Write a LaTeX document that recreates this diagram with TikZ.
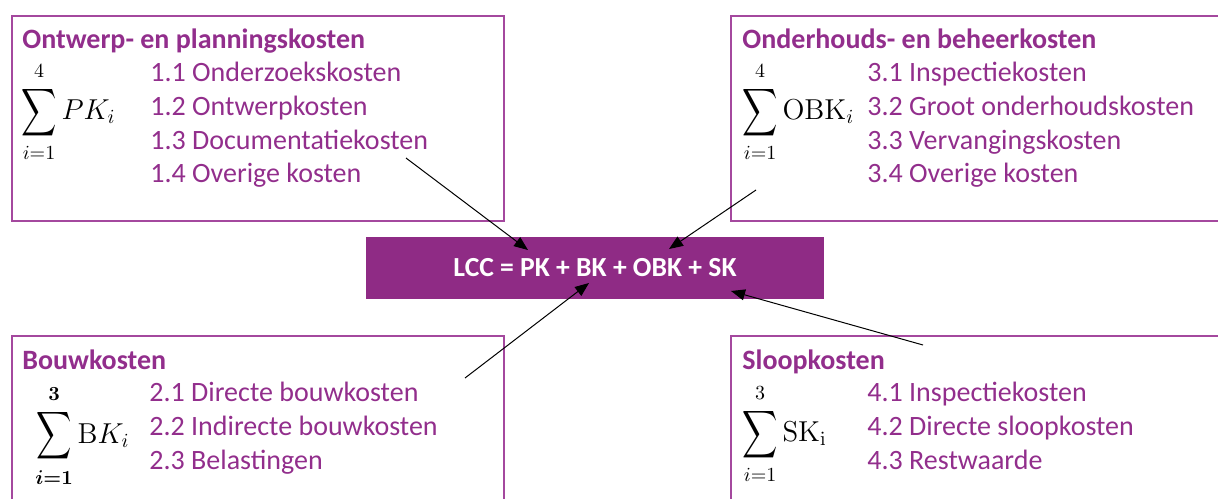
\documentclass[tikz,border=0pt]{standalone}
\usepackage[no-math]{fontspec}
\setmainfont{Carlito}
\usepackage{amsmath}
\usepackage{graphicx}
\usetikzlibrary{arrows.meta}

\definecolor{lccpaars}{RGB}{143,43,133}
\definecolor{randpaars}{RGB}{164,72,158}
\definecolor{tekstpaars}{RGB}{146,46,140}

% somteken iets hoger en smaller dan de standaard, met wat ruimte voor de grenzen
\newcommand{\kostsom}{\mathop{\vcenter{\hbox{\raisebox{0pt}[\dimexpr\height+1.5pt][\dimexpr\depth+1.5pt]{\scalebox{0.85}[1.15]{$\displaystyle\sum$}}}}}\limits}

\tikzset{
	kostbox/.style={draw=randpaars, line width=1pt, anchor=north west, inner sep=0pt},
	kop/.style={anchor=base west, inner sep=0pt, text=tekstpaars, font=\fontsize{14}{16}\selectfont\bfseries},
	posten/.style={anchor=north west, inner sep=0pt, align=left, text=tekstpaars, font=\fontsize{14}{16.8}\selectfont},
	som/.style={anchor=west, inner sep=0pt, font=\fontsize{14.5}{18}\selectfont},
	lccbox/.style={fill=lccpaars, text=white, minimum width=229pt, minimum height=31pt, font=\fontsize{13.8}{16}\selectfont\bfseries},
	pijl/.style={-{Triangle[length=7pt,width=5.5pt]}, line width=0.5pt}
}

\begin{document}
\begin{tikzpicture}[x=0.5pt,y=-0.5pt]
	\useasboundingbox (0,0) rectangle (1218,498);
	\clip (0,0) rectangle (1218,498);

	% vier kostengroepen
	\node[kostbox, minimum width=246pt, minimum height=102.5pt] (pkbox) at (11,15) {};
	\node[kostbox, minimum width=255pt, minimum height=102.5pt] (obkbox) at (730,15) {};
	\node[kostbox, minimum width=246pt, minimum height=92.5pt] (bkbox) at (11,335) {};
	\node[kostbox, minimum width=255pt, minimum height=92.5pt] (skbox) at (730,335) {};

	\node[kop] (pkkop) at (22,48) {Ontwerp- en planningskosten};
	\node[som] (pksom) at (21,112) {$\kostsom_{i=1}^{4} PK_i$};
	\node[posten] (pklijst) at (150,62) {1.1 Onderzoekskosten\\1.2 Ontwerpkosten\\1.3 Documentatiekosten\\1.4 Overige kosten};

	\node[kop] (obkkop) at (742,48) {Onderhouds- en beheerkosten};
	\node[som] (obksom) at (742,112) {$\kostsom_{i=1}^{4} \mathrm{OBK}_i$};
	\node[posten] (obklijst) at (867,62) {3.1 Inspectiekosten\\3.2 Groot onderhoudskosten\\3.3 Vervangingskosten\\3.4 Overige kosten};

	\node[kop] (bkkop) at (22,369) {Bouwkosten};
	\node[som] (bksom) at (35,436) {$\kostsom_{\boldsymbol{i=1}}^{\boldsymbol{3}} \mathrm{B}K_i$};
	\node[posten] (bklijst) at (149,382) {2.1 Directe bouwkosten\\2.2 Indirecte bouwkosten\\2.3 Belastingen};

	\node[kop] (skkop) at (742,369) {Sloopkosten};
	\node[som] (sksom) at (742,434) {$\kostsom_{i=1}^{3} \mathrm{SK}_{\mathrm{i}}$};
	\node[posten] (sklijst) at (867,382) {4.1 Inspectiekosten\\4.2 Directe sloopkosten\\4.3 Restwaarde};

	% totaal in het midden
	\node[lccbox] (lcc) at (595,268) {LCC = PK + BK + OBK + SK};

	\coordinate (pkvan) at (406,158);
	\coordinate (pknaar) at (528,250);
	\coordinate (obkvan) at (756,190);
	\coordinate (obknaar) at (669,249);
	\coordinate (bkvan) at (465,378);
	\coordinate (bknaar) at (589,283);
	\coordinate (skvan) at (923,345);
	\coordinate (sknaar) at (731,291);

	\draw[pijl] (pkvan) -- (pknaar);
	\draw[pijl] (obkvan) -- (obknaar);
	\draw[pijl] (bkvan) -- (bknaar);
	\draw[pijl] (skvan) -- (sknaar);
\end{tikzpicture}
\end{document}
